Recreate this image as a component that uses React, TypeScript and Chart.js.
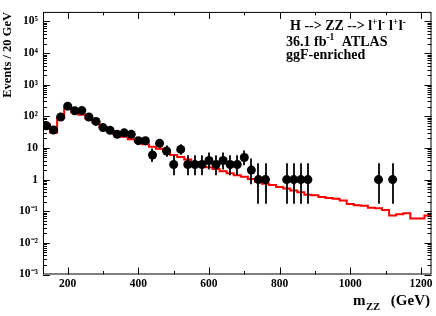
import React, { useEffect, useRef } from "react";
import { Chart, registerables } from "chart.js";

Chart.register(...registerables);

// ---- Data ----
// Lower edges of the 20 GeV bins of the expected (red) histogram
const BIN_LOW_EDGES = [
  130, 150, 170, 190, 210, 230, 250, 270, 290, 310,
  330, 350, 370, 390, 410, 430, 450, 470, 490, 510,
  530, 550, 570, 590, 610, 630, 650, 670, 690, 710,
  730, 750, 770, 790, 810, 830, 850, 870, 890, 910,
  930, 950, 970, 990, 1010, 1030, 1050, 1070, 1090, 1110,
  1130, 1150, 1170, 1190, 1210,
];
const LAST_BIN_UPPER_EDGE = 1230;

// Expected events per bin (red histogram)
const EXPECTED = [
  55, 31, 89, 180, 135, 112, 84, 64, 45, 34,
  26, 22.5, 19, 16, 13, 11, 9.5, 8, 6, 5.2,
  4.3, 3.5, 3.0, 2.45, 2.15, 1.85, 1.6, 1.38, 1.22, 1.05,
  0.86, 0.74, 0.68, 0.58, 0.52, 0.45, 0.4, 0.33, 0.32, 0.28,
  0.26, 0.25, 0.22, 0.17, 0.155, 0.15, 0.13, 0.125, 0.11, 0.073,
  0.08, 0.087, 0.059, 0.059, 0.073,
];

// Observed data (bin centres and counts)
const DATA_MASS = [
  140, 160, 180, 200, 220, 240, 260, 280, 300, 320,
  340, 360, 380, 400, 420, 440, 460, 480, 500, 520,
  540, 560, 580, 600, 620, 640, 660, 680, 700, 720,
  740, 760, 820, 840, 860, 880, 1080, 1120,
];
const DATA_COUNTS = [
  50, 37, 95, 210, 150, 152, 95, 69, 44, 36,
  27, 30, 27, 17, 17, 6, 14, 8, 3, 9,
  3, 3, 3, 4, 3, 4, 3, 3, 5, 2,
  1, 1, 1, 1, 1, 1, 1, 1,
];
// Lower / upper ends of the Poisson error bars
const ERR_LOW = [
  43, 31, 85.4, 196, 138, 140, 85.4, 60.8, 37.6, 30.1,
  21.9, 24.6, 21.9, 12.9, 12.9, 3.62, 10.3, 5.23, 1.37, 6.06,
  1.37, 1.37, 1.37, 2.09, 1.37, 2.09, 1.37, 1.37, 2.84, 0.708,
  0.173, 0.173, 0.173, 0.173, 0.173, 0.173, 0.173, 0.173,
];
const ERR_HIGH = [
  57.6, 43.6, 105, 225, 162.7, 165, 105, 77.8, 51.1, 42.5,
  33.2, 36.5, 33.2, 22.1, 22.1, 9.58, 18.8, 11.95, 5.92, 13.11,
  5.92, 5.92, 5.92, 7.16, 5.92, 7.16, 5.92, 5.92, 8.38, 4.64,
  3.3, 3.3, 3.3, 3.3, 3.3, 3.3, 3.3, 3.3,
];

// Axes
const X_MIN = 130;
const X_MAX = 1230;
const X_MAJOR_TICKS = [200, 400, 600, 800, 1000, 1200];
const X_MINOR_TICKS = [300, 500, 700, 900, 1100];
const Y_MIN = 1e-3;
const Y_MAX = 2e5;
const Y_DECADES = [1e-3, 1e-2, 1e-1, 1, 10, 1e2, 1e3, 1e4, 1e5];
const Y_TICK_LABELS = ["10⁻³", "10⁻²", "10⁻¹", "1", "10", "10²", "10³", "10⁴", "10⁵"];
const Y_MINOR_FACTORS = [2, 3, 4, 5, 6, 7, 8, 9];

// Texts (segments: [text, isSuperscript])
const Y_TITLE = "Events / 20 GeV";
const X_TITLE_MAIN = "m";
const X_TITLE_SUB = "ZZ";
const X_TITLE_UNIT = "(GeV)";
const ANNOTATION_LINE1: [string, boolean][] = [
  ["H --> ZZ --> l", false], ["+", true], ["l", false], ["-", true],
  [" l", false], ["+", true], ["l", false], ["-", true],
];
const ANNOTATION_LINE2: [string, boolean][] = [["36.1 fb", false], ["-1", true], ["  ATLAS", false]];
const ANNOTATION_LINE3: [string, boolean][] = [["ggF-enriched", false]];

const SERIF = "'Liberation Serif', 'Times New Roman', serif";

function drawRich(ctx: CanvasRenderingContext2D, segs: [string, boolean][], x: number, y: number) {
  let cx = x;
  segs.forEach(([t, sup]) => {
    ctx.font = sup ? `bold 9.5px ${SERIF}` : `bold 14px ${SERIF}`;
    ctx.fillText(t, cx, sup ? y - 5.5 : y);
    cx += ctx.measureText(t).width + (sup ? 0.5 : 0);
  });
}

const errorBarPlugin = {
  id: "errorBars",
  afterDatasetDraw(chart: any, args: any) {
    if (args.index !== 1) return;
    const { ctx, chartArea } = chart;
    const xs = chart.scales.x;
    const ys = chart.scales.y;
    ctx.save();
    ctx.beginPath();
    ctx.rect(chartArea.left, chartArea.top, chartArea.right - chartArea.left, chartArea.bottom - chartArea.top);
    ctx.clip();
    ctx.strokeStyle = "#000";
    ctx.lineWidth = 1.8;
    DATA_MASS.forEach((m, i) => {
      const px = Math.round(xs.getPixelForValue(m));
      ctx.beginPath();
      ctx.moveTo(px, ys.getPixelForValue(ERR_LOW[i]));
      ctx.lineTo(px, ys.getPixelForValue(ERR_HIGH[i]));
      ctx.stroke();
    });
    ctx.restore();
  },
};

const framePlugin = {
  id: "rootFrame",
  afterDraw(chart: any) {
    const { ctx, chartArea } = chart;
    const { left, right, top, bottom } = chartArea;
    const xs = chart.scales.x;
    const ys = chart.scales.y;
    ctx.save();
    ctx.strokeStyle = "#000";
    ctx.lineWidth = 1;
    ctx.strokeRect(left + 0.5, top + 0.5, right - left - 1, bottom - top - 1);

    ctx.beginPath();
    const yTick = (v: number, len: number) => {
      const py = Math.round(ys.getPixelForValue(v)) + 0.5;
      ctx.moveTo(left, py);
      ctx.lineTo(left + len, py);
      ctx.moveTo(right, py);
      ctx.lineTo(right - len, py);
    };
    Y_DECADES.forEach((d) => {
      yTick(d, 7);
      Y_MINOR_FACTORS.forEach((f) => {
        const v = d * f;
        if (v < Y_MAX) yTick(v, 4);
      });
    });
    const xTick = (v: number, len: number) => {
      const px = Math.round(xs.getPixelForValue(v)) + 0.5;
      ctx.moveTo(px, bottom);
      ctx.lineTo(px, bottom - len);
      ctx.moveTo(px, top);
      ctx.lineTo(px, top + len);
    };
    X_MAJOR_TICKS.forEach((v) => xTick(v, 7));
    X_MINOR_TICKS.forEach((v) => xTick(v, 3.5));
    ctx.stroke();

    ctx.fillStyle = "#000";
    // y title
    ctx.save();
    ctx.font = `bold 12.5px ${SERIF}`;
    ctx.translate(11, 12);
    ctx.rotate(-Math.PI / 2);
    ctx.textAlign = "right";
    ctx.textBaseline = "alphabetic";
    ctx.fillText(Y_TITLE, 0, 0);
    ctx.restore();

    // x title
    ctx.textBaseline = "alphabetic";
    ctx.textAlign = "left";
    ctx.font = `bold 15px ${SERIF}`;
    ctx.fillText(X_TITLE_MAIN, 353, 305);
    const mW = ctx.measureText(X_TITLE_MAIN).width;
    ctx.font = `bold 10.5px ${SERIF}`;
    ctx.fillText(X_TITLE_SUB, 353 + mW + 0.5, 310);
    ctx.font = `bold 15px ${SERIF}`;
    ctx.textAlign = "right";
    ctx.fillText(X_TITLE_UNIT, 430, 305);

    // annotation
    ctx.textAlign = "left";
    drawRich(ctx, ANNOTATION_LINE1, 290, 30);
    drawRich(ctx, ANNOTATION_LINE2, 286, 45.5);
    drawRich(ctx, ANNOTATION_LINE3, 286, 59);
    ctx.restore();
  },
};

export default function App() {
  const canvasRef = useRef<HTMLCanvasElement | null>(null);

  useEffect(() => {
    const canvas = canvasRef.current;
    if (!canvas) return;
    const histData = BIN_LOW_EDGES.map((x, i) => ({ x, y: EXPECTED[i] }));
    histData.push({ x: LAST_BIN_UPPER_EDGE, y: EXPECTED[EXPECTED.length - 1] });
    const pointData = DATA_MASS.map((x, i) => ({ x, y: DATA_COUNTS[i] }));

    const chart = new Chart(canvas, {
      type: "scatter",
      data: {
        datasets: [
          {
            label: "Data",
            data: pointData,
            showLine: false,
            pointRadius: 4.5,
            pointHoverRadius: 4.5,
            pointStyle: "circle",
            backgroundColor: "#000",
            borderColor: "#000",
            borderWidth: 0,
          },
          {
            label: "Expected",
            type: "line",
            data: histData,
            stepped: "before",
            borderColor: "#ff0000",
            borderWidth: 2,
            pointRadius: 0,
            fill: false,
          } as any,
        ],
      },
      options: {
        animation: false,
        responsive: false,
        devicePixelRatio: 1,
        layout: { padding: { top: 2, right: 4, left: 0, bottom: 0 } },
        plugins: {
          legend: { display: false },
          tooltip: { enabled: false },
          title: { display: false },
        },
        scales: {
          x: {
            type: "linear",
            min: X_MIN,
            max: X_MAX,
            grid: { display: false, drawTicks: false },
            border: { display: false },
            afterBuildTicks: (scale: any) => {
              scale.ticks = X_MAJOR_TICKS.map((v) => ({ value: v }));
            },
            afterFit: (scale: any) => {
              scale.height = 41.5;
            },
            ticks: {
              autoSkip: false,
              maxRotation: 0,
              padding: 3,
              color: "#000",
              font: { family: SERIF, size: 11.5, weight: "bold" },
              callback: (v: any) => String(v),
            },
          },
          y: {
            type: "logarithmic",
            min: Y_MIN,
            max: Y_MAX,
            grid: { display: false, drawTicks: false },
            border: { display: false },
            afterBuildTicks: (scale: any) => {
              scale.ticks = Y_DECADES.map((v) => ({ value: v, major: true }));
            },
            afterFit: (scale: any) => {
              scale.width = 43;
            },
            ticks: {
              autoSkip: false,
              padding: 5,
              color: "#000",
              font: { family: SERIF, size: 11.5, weight: "bold" },
              callback: (v: any) => {
                const idx = Y_DECADES.findIndex((d) => Math.abs(Math.log10(d) - Math.log10(Number(v))) < 1e-6);
                return idx >= 0 ? Y_TICK_LABELS[idx] : "";
              },
            },
          },
        },
      },
      plugins: [errorBarPlugin, framePlugin],
    });
    return () => chart.destroy();
  }, []);

  return (
    <div style={{ position: "fixed", left: 0, top: 0, width: 436, height: 316, background: "#fff" }}>
      <canvas ref={canvasRef} width={436} height={316} style={{ display: "block", width: 436, height: 316 }} />
    </div>
  );
}
